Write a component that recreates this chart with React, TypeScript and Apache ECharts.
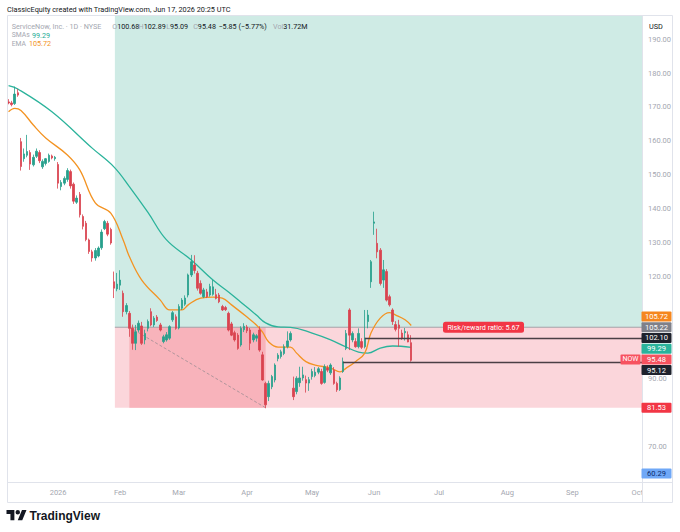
import { useEffect, useRef } from "react";
import * as echarts from "echarts";

// ---- Daily candles (index 0 = first trading day shown) ----
const OPEN = [
  171.5, 171.2, 171.0, 174.2, 159.8, 154.8, 155.8, 156.6, 153.0, 155.5,
  156.6, 152.4, 153.4, 154.0, 155.6, 154.8, 153.1, 146.6, 147.6, 148.7,
  151.0, 147.3, 142.0, 144.3, 137.8, 135.8, 130.9, 127.4, 125.6, 126.2,
  128.6, 134.2, 135.8, 134.0, 118.6, 116.5, 117.6, 115.2, 109.8, 109.3,
  104.9, 100.5, 104.4, 105.6, 101.5, 104.9, 109.8, 105.9, 108.2, 105.9,
  101.0, 101.5, 102.0, 107.4, 108.3, 105.0, 110.8, 112.0, 114.7, 120.6,
  123.5, 121.1, 118.1, 114.2, 115.6, 114.7, 114.9, 114.8, 114.7, 111.3,
  111.0, 109.3, 106.2, 103.6, 102.9, 100.0, 104.5, 105.3, 104.4, 101.5,
  102.0, 104.4, 97.1, 88.7, 84.8, 87.7, 89.7, 96.0, 96.6, 97.5,
  99.5, 101.5, 87.3, 86.3, 88.9, 90.3, 89.8, 88.8, 90.7, 91.0,
  92.0, 92.2, 89.0, 93.2, 91.8, 92.6, 88.7, 86.9, 92.2, 99.0,
  110.3, 101.5, 101.0, 99.5, 101.0, 99.5, 106.9, 118.6, 135.8, 129.9,
  127.9, 119.1, 121.6, 114.2, 110.3, 106.0, 105.9, 103.5, 103.6, 103.0,
  100.68,
];
const HIGH = [
  172.3, 171.8, 176.0, 175.3, 160.9, 157.8, 161.8, 157.3, 156.0, 157.8,
  157.3, 154.6, 155.0, 156.3, 156.0, 155.6, 153.8, 148.5, 149.6, 152.0,
  151.6, 147.8, 144.0, 145.0, 138.4, 136.5, 131.3, 128.0, 128.5, 129.0,
  134.0, 136.8, 136.5, 134.5, 121.6, 121.2, 122.0, 116.0, 112.3, 110.0,
  106.0, 105.9, 107.2, 106.8, 104.5, 107.5, 110.8, 108.5, 108.8, 106.5,
  103.0, 103.8, 105.8, 110.0, 109.0, 112.0, 113.8, 114.6, 121.0, 126.5,
  126.4, 121.8, 119.0, 116.8, 116.5, 118.0, 119.1, 116.5, 115.3, 111.8,
  111.5, 109.8, 106.8, 104.2, 103.5, 105.5, 106.4, 105.9, 105.0, 103.6,
  103.2, 105.5, 98.0, 89.2, 89.5, 91.2, 94.6, 97.6, 98.6, 100.2,
  104.0, 104.0, 90.7, 90.8, 93.6, 93.6, 91.0, 90.6, 93.0, 93.5,
  93.5, 93.0, 94.3, 94.0, 94.6, 93.5, 89.2, 90.8, 96.3, 104.4,
  110.8, 104.0, 102.0, 104.9, 102.0, 110.3, 110.3, 125.0, 139.2, 134.2,
  128.5, 125.0, 122.3, 114.8, 110.8, 107.0, 107.4, 104.5, 105.0, 104.0,
  102.89,
];
const LOW = [
  170.8, 170.2, 170.6, 173.0, 151.3, 153.9, 155.2, 151.5, 152.5, 155.0,
  153.5, 151.8, 152.8, 153.6, 154.6, 154.2, 146.0, 145.5, 147.0, 148.0,
  146.0, 141.5, 141.5, 137.5, 134.0, 130.5, 126.8, 124.5, 124.8, 125.8,
  128.0, 133.8, 132.0, 129.5, 113.8, 115.8, 116.2, 108.3, 109.0, 102.4,
  98.6, 98.5, 103.8, 100.0, 100.2, 104.0, 105.5, 105.3, 106.8, 104.0,
  100.5, 101.0, 101.5, 106.8, 104.5, 104.6, 110.3, 111.5, 114.0, 120.0,
  121.0, 116.0, 114.8, 113.8, 113.8, 114.2, 114.5, 113.4, 112.3, 110.0,
  110.0, 104.0, 102.6, 101.0, 98.6, 99.5, 103.8, 103.5, 98.5, 100.8,
  101.0, 98.0, 89.5, 81.4, 83.5, 87.0, 89.0, 95.2, 96.0, 97.0,
  99.0, 101.0, 83.8, 85.5, 87.7, 89.5, 86.0, 86.5, 89.8, 90.5,
  91.4, 88.3, 88.6, 92.0, 91.2, 88.3, 86.2, 86.5, 91.8, 98.5,
  98.5, 100.8, 99.2, 99.0, 98.8, 99.0, 104.9, 116.8, 132.4, 125.5,
  117.5, 116.8, 112.8, 111.3, 105.9, 104.0, 99.5, 101.5, 101.3, 100.8,
  95.09,
];
const CLOSE = [
  171.2, 170.7, 173.8, 173.5, 152.5, 156.2, 156.9, 153.2, 155.2, 157.0,
  154.2, 154.0, 154.8, 155.8, 155.0, 155.2, 147.6, 147.8, 149.0, 151.3,
  146.8, 142.3, 143.2, 138.3, 134.9, 131.0, 127.5, 125.6, 127.8, 128.5,
  133.2, 136.3, 132.6, 130.0, 116.7, 117.9, 119.1, 109.8, 111.6, 104.9,
  100.5, 103.9, 106.4, 100.5, 103.4, 106.9, 105.9, 107.9, 107.2, 104.4,
  102.4, 103.0, 105.4, 109.5, 104.9, 111.3, 113.2, 113.8, 120.6, 124.5,
  121.9, 116.7, 115.2, 116.2, 114.2, 117.2, 117.1, 113.7, 112.7, 110.3,
  110.4, 104.4, 102.9, 101.5, 99.0, 104.9, 105.5, 104.2, 100.5, 103.0,
  102.7, 98.5, 89.7, 82.4, 88.7, 90.7, 94.1, 97.0, 98.0, 99.5,
  101.2, 103.4, 84.8, 90.2, 90.3, 91.2, 88.8, 89.8, 92.2, 92.0,
  93.0, 88.7, 93.6, 92.6, 94.1, 88.7, 86.8, 90.3, 95.1, 103.4,
  102.9, 103.4, 99.5, 103.4, 99.3, 102.0, 108.8, 124.5, 136.2, 127.4,
  118.1, 122.1, 113.2, 111.8, 106.9, 104.6, 104.9, 102.0, 104.0, 100.9,
  95.48,
];

// ---- Moving averages (bar index, value) ----
const SMA_IDX = [0, 3, 14, 27, 34, 39, 45, 51, 59, 66, 71, 75, 80, 83, 87, 91, 98, 104, 109, 113, 116, 120, 124, 130];
const SMA_VAL = [176.3, 175.3, 168.6, 157.9, 152.4, 146.6, 139.0, 130.9, 125.0, 119.1, 115.6, 112.6, 108.8, 106.5, 105.3, 105.2, 103.5, 101.5, 99.4, 97.9, 97.6, 99.1, 99.7, 99.29];
const EMA_IDX = [0, 2, 4, 8, 12, 19, 23, 28, 33, 37, 39, 43, 49, 52, 56, 58, 62, 66, 69, 72, 77, 80, 82, 84, 87, 91, 93, 96, 99, 104, 107, 109, 112, 115, 117, 120, 123, 125, 128, 130];
const EMA_VAL = [168.6, 169.6, 169.0, 164.7, 160.9, 155.9, 151.5, 141.8, 138.8, 130.9, 126.0, 119.1, 113.2, 110.3, 110.3, 111.8, 113.8, 114.1, 113.8, 111.8, 108.2, 105.9, 103.8, 100.9, 99.4, 99.4, 97.6, 95.1, 94.1, 93.2, 92.1, 93.2, 95.1, 97.6, 103.5, 107.9, 109.5, 108.8, 107.4, 105.72];

// ---- Calendar (trading days) ----
const FIRST_DAY = "2025-12-09";
const HOLIDAYS = ["2025-12-25", "2026-01-01", "2026-01-19", "2026-02-16", "2026-04-03", "2026-05-25", "2026-06-19", "2026-07-03", "2026-09-07"];
const SLOT_COUNT = 205;
const MONTHS = ["Jan", "Feb", "Mar", "Apr", "May", "Jun", "Jul", "Aug", "Sep", "Oct", "Nov", "Dec"];

// ---- Long position tool & drawings ----
const ENTRY = 105.22;
const STOP = 81.53;
const RR_TEXT = "Risk/reward ratio: 5.67";
const TOOL_START = 34;
const TRIGGER_IDX = 39;
const STOP_IDX = 83;
const RAY_LEVELS = [102.1, 95.12];
const RAY_STARTS = [115, 108];
const LOW_MARK = 60.29;

// ---- Axis ticks ----
const Y_TICKS = [70, 80, 90, 100, 110, 120, 130, 140, 150, 160, 170, 180, 190];
const Y_MIN = 59.7;
const Y_MAX = 197.06;

// ---- Legend texts ----
const HEADER = "ClassicEquity created with TradingView.com, Jun 17, 2026 20:25 UTC";
const SYMBOL = "ServiceNow, Inc. · 1D · NYSE";
const OHLC_LABELS = ["O", "H", "L", "C"];
const OHLC_VALUES = ["100.68", "102.89", "95.09", "95.48"];
const CHANGE = "−5.85 (−5.77%)";
const VOLUME = "31.72M";
const SMA_NAME = "SMAs";
const EMA_NAME = "EMA";

function buildDates(): string[] {
  const out: string[] = [];
  const [y, m, d] = FIRST_DAY.split("-").map(Number);
  let t = Date.UTC(y, m - 1, d);
  while (out.length < SLOT_COUNT) {
    const dt = new Date(t);
    const wd = dt.getUTCDay();
    const s = dt.toISOString().slice(0, 10);
    if (wd !== 0 && wd !== 6 && HOLIDAYS.indexOf(s) < 0) out.push(s);
    t += 86400000;
  }
  return out;
}

const FONT = "Roboto, 'Noto Sans', sans-serif";
const UP = "#26a08c";
const DOWN = "#d9434f";
const SMA_COLOR = "#2bb39b";
const EMA_COLOR = "#f39322";
const AXIS_TEXT = "#a4a7b0";

let registered = false;

export default function App() {
  const ref = useRef<HTMLDivElement>(null);

  useEffect(() => {
    if (!registered) {
      echarts.graphic.registerShape(
        "tvlogo",
        echarts.graphic.extendPath(
          "M14 22H7V11H0V4h14v18zM28 22h-8l7.5-18h8L28 22zM24 8a4 4 0 1 1-8 0a4 4 0 1 1 8 0z",
          {}
        ) as any
      );
      registered = true;
    }
    const chart = echarts.init(ref.current!, null, { renderer: "svg" });
    const dates = buildDates();
    const candles = OPEN.map((o, i) => [o, CLOSE[i], LOW[i], HIGH[i]]);
    const sma = SMA_IDX.map((x, i) => [x, SMA_VAL[i]]);
    const ema = EMA_IDX.map((x, i) => [x, EMA_VAL[i]]);

    const GL = 7, GT = 15, GW = 635, GH = 467;
    const GR = GL + GW, GB = GT + GH;

    const yAxisLabel = (values: number[]) => ({
      customValues: values,
      color: AXIS_TEXT,
      fontSize: 7.5,
      fontFamily: FONT,
      margin: 6,
      formatter: (v: number) => v.toFixed(2),
    });

    chart.setOption({
      animation: false,
      backgroundColor: "#ffffff",
      textStyle: { fontFamily: FONT },
      grid: { left: GL, top: GT, width: GW, height: GH, containLabel: false, outerBoundsMode: "none" } as any,
      xAxis: {
        type: "category",
        data: dates,
        boundaryGap: true,
        axisLine: { show: false },
        axisTick: { show: false },
        splitLine: { show: false },
        axisLabel: {
          color: AXIS_TEXT,
          fontSize: 7.5,
          fontFamily: FONT,
          margin: 6,
          interval: (idx: number, val: string) => idx > 0 && val.slice(5, 7) !== dates[idx - 1].slice(5, 7),
          formatter: (val: string) => {
            const mo = Number(val.slice(5, 7)) - 1;
            return mo === 0 ? val.slice(0, 4) : MONTHS[mo];
          },
        },
      },
      yAxis: {
        type: "value",
        position: "right",
        min: Y_MIN,
        max: Y_MAX,
        axisLine: { show: false },
        axisTick: { show: false },
        splitLine: { show: false },
        axisLabel: yAxisLabel(Y_TICKS),
      } as any,
      series: [
        {
          type: "candlestick",
          data: candles,
          barWidth: 2,
          z: 5,
          itemStyle: { color: UP, color0: DOWN, borderColor: UP, borderColor0: DOWN, borderWidth: 0.8 },
        },
        {
          type: "line",
          data: sma,
          smooth: 0.4,
          showSymbol: false,
          z: 4,
          lineStyle: { color: SMA_COLOR, width: 1.3 },
        },
        {
          type: "line",
          data: ema,
          smooth: 0.4,
          showSymbol: false,
          z: 4,
          lineStyle: { color: EMA_COLOR, width: 1.3 },
        },
      ],
    });

    const px = (i: number, v: number) => chart.convertToPixel({ xAxisIndex: 0, yAxisIndex: 0 }, [i, v]) as number[];
    const yOf = (v: number) => px(0, v)[1];
    const xOf = (i: number) => px(i, ENTRY)[0];

    const els: any[] = [];
    const yEntry = yOf(ENTRY);
    const yStop = yOf(STOP);
    const xTool = xOf(TOOL_START) + 1;
    // reward zone
    els.push({ type: "rect", z: 0, shape: { x: xTool, y: GT, width: GR - xTool, height: yEntry - GT }, style: { fill: "#cfebe5" } });
    // risk zone
    els.push({ type: "rect", z: 0, shape: { x: xTool, y: yEntry, width: GR - xTool, height: yStop - yEntry }, style: { fill: "#fbd6db" } });
    // realised part of the trade
    const xTrig = xOf(TRIGGER_IDX), xStopHit = xOf(STOP_IDX);
    els.push({ type: "rect", z: 0, shape: { x: xTrig, y: yEntry, width: xStopHit - xTrig, height: yStop - yEntry }, style: { fill: "#f8b3bb" } });
    // entry line
    els.push({ type: "line", z: 1, shape: { x1: xTool, y1: yEntry, x2: GR, y2: yEntry }, style: { stroke: "#a3a0a6", lineWidth: 1 } });
    // dashed path
    els.push({ type: "line", z: 1, shape: { x1: xTrig, y1: yEntry, x2: xStopHit, y2: yStop }, style: { stroke: "#9e8d93", lineWidth: 0.8, lineDash: [3, 2] } });
    // horizontal rays
    RAY_LEVELS.forEach((lv, k) => {
      const y = Math.round(yOf(lv)) + 0.5;
      els.push({ type: "line", z: 6, shape: { x1: xOf(RAY_STARTS[k]), y1: y, x2: GR, y2: y }, style: { stroke: "#4a3f45", lineWidth: 1.6 } });
    });
    // risk/reward label
    els.push({
      type: "rect", z: 20, shape: { x: 443, y: yEntry - 5.5, width: 81, height: 11, r: 2.5 }, style: { fill: "#f23645" },
    });
    els.push({
      type: "text", z: 21, x: 483.5, y: yEntry,
      style: { text: RR_TEXT, fill: "#ffffff", font: `7.2px ${FONT}`, align: "center", verticalAlign: "middle", textAlign: "center", textVerticalAlign: "middle" },
    });

    // frame
    els.push({ type: "rect", z: 30, shape: { x: GR + 1, y: GB + 1, width: 672 - GR - 1, height: 502 - GB - 1 }, style: { fill: "#ffffff" } });
    els.push({ type: "rect", z: 31, shape: { x: 7.5, y: 15.5, width: 665, height: 487 }, style: { fill: "none", stroke: "#e0e3eb", lineWidth: 1 } });
    els.push({ type: "line", z: 31, shape: { x1: GR + 0.5, y1: 15, x2: GR + 0.5, y2: 502 }, style: { stroke: "#e0e3eb", lineWidth: 1 } });
    els.push({ type: "line", z: 31, shape: { x1: 7, y1: GB + 0.5, x2: 672, y2: GB + 0.5 }, style: { stroke: "#e0e3eb", lineWidth: 1 } });

    // price tags on the scale
    const lastClose = CLOSE[CLOSE.length - 1];
    const tags = [
      { v: EMA_VAL[EMA_VAL.length - 1], bg: "#f5871f", fg: "#ffffff" },
      { v: ENTRY, bg: "#7e8089", fg: "#ffffff" },
      { v: RAY_LEVELS[0], bg: "#1e222d", fg: "#ffffff" },
      { v: SMA_VAL[SMA_VAL.length - 1], bg: "#2bb39b", fg: "#ffffff" },
      { v: lastClose, bg: "#f7525f", fg: "#ffffff", now: true },
      { v: RAY_LEVELS[1], bg: "#1e222d", fg: "#ffffff" },
      { v: STOP, bg: "#f23645", fg: "#ffffff" },
      { v: LOW_MARK, bg: "#6fa8f7", fg: "#0d2b6b" },
    ].map((t) => ({ ...t, y: Math.min(GB - 8.5, Math.max(GT + 5.5, yOf(t.v))) }));
    tags.sort((a, b) => a.y - b.y);
    const H = 10.7;
    let groups = tags.map((t) => ({ items: [t], c: t.y }));
    let changed = true;
    while (changed) {
      changed = false;
      for (let g = 0; g < groups.length - 1; g++) {
        const a = groups[g], b = groups[g + 1];
        const aEnd = a.c + ((a.items.length - 1) / 2) * H;
        const bStart = b.c - ((b.items.length - 1) / 2) * H;
        if (bStart - aEnd < H) {
          const items = a.items.concat(b.items);
          const c = items.reduce((s, it) => s + it.y, 0) / items.length;
          groups.splice(g, 2, { items, c });
          changed = true;
          break;
        }
      }
    }
    const tagCenters: number[] = [];
    groups.forEach((g) => {
      g.items.forEach((t, k) => {
        const cy = g.c + (k - (g.items.length - 1) / 2) * H;
        tagCenters.push(cy);
        els.push({ type: "rect", z: 40, shape: { x: GR - 0.5, y: cy - 5, width: 30, height: 10, r: 1 }, style: { fill: t.bg } });
        els.push({
          type: "text", z: 41, x: GR + 14.5, y: cy,
          style: { text: t.v.toFixed(2), fill: t.fg, font: `7.5px ${FONT}`, align: "center", verticalAlign: "middle", textAlign: "center", textVerticalAlign: "middle" },
        });
        if ((t as any).now) {
          els.push({ type: "rect", z: 40, shape: { x: GR - 21.5, y: cy - 5, width: 20, height: 10, r: 1 }, style: { fill: t.bg } });
          els.push({
            type: "text", z: 41, x: GR - 11.5, y: cy,
            style: { text: "NOW", fill: "#ffffff", font: `7px ${FONT}`, align: "center", verticalAlign: "middle", textAlign: "center", textVerticalAlign: "middle" },
          });
        }
      });
    });
    // scale labels covered by a tag are hidden, as on the original price scale
    const visibleTicks = Y_TICKS.filter((v) => tagCenters.every((c) => Math.abs(c - yOf(v)) >= 8));

    const txt = (x: number, y: number, text: string, fill: string, size = 7.2, extra: any = {}) => ({
      type: "text", z: 50, x, y,
      style: { text, fill, font: `${size}px ${FONT}`, align: "left", verticalAlign: "middle", textAlign: "left", textVerticalAlign: "middle", ...extra },
    });
    const richPart = (x: number, y: number, text: string) => ({
      type: "text", z: 50, x, y,
      style: {
        text, align: "left", verticalAlign: "middle", textAlign: "left", textVerticalAlign: "middle",
        font: `7.2px ${FONT}`,
        rich: {
          l: { fill: AXIS_TEXT, fontSize: 7.2, fontFamily: FONT },
          v: { fill: "#131722", fontSize: 7.2, fontFamily: FONT },
        },
      },
    });
    els.push(txt(7, 9, HEADER, "#131722", 7.3));
    els.push(txt(649, 26, "USD", "#131722", 7.3));
    els.push(txt(11.7, 26.5, SYMBOL, AXIS_TEXT, 7.2));
    const ohlcX = [112.2, 138.6, 166.2, 193.2];
    OHLC_LABELS.forEach((l, i) => els.push(richPart(ohlcX[i], 26.5, `{l|${l}}{v|${OHLC_VALUES[i]}}`)));
    els.push(richPart(218.5, 26.5, `{v|${CHANGE}}`));
    els.push(richPart(273, 26.5, `{l|Vol}{v|${VOLUME}}`));
    els.push(txt(11.7, 35, SMA_NAME, AXIS_TEXT, 6.8));
    els.push(txt(32, 35, SMA_VAL[SMA_VAL.length - 1].toFixed(2), "#22ab94", 7.2));
    els.push(txt(11.7, 43.5, EMA_NAME, AXIS_TEXT, 6.8));
    els.push(txt(29, 43.5, EMA_VAL[EMA_VAL.length - 1].toFixed(2), EMA_COLOR, 7.2));

    // TradingView logo + wordmark
    els.push({ type: "tvlogo", z: 50, x: 6.5, y: 507.8, scaleX: 0.563, scaleY: 0.563, style: { fill: "#131722" } });
    els.push(txt(29.5, 516, "TradingView", "#131722", 12.5, { fontWeight: 600, font: `600 12.5px Inter, ${FONT}` }));

    chart.setOption({ yAxis: { axisLabel: yAxisLabel(visibleTicks) }, graphic: els });

    return () => chart.dispose();
  }, []);

  return (
    <div
      ref={ref}
      style={{ position: "fixed", left: 0, top: 0, width: 680, height: 532, background: "#ffffff" }}
    />
  );
}
